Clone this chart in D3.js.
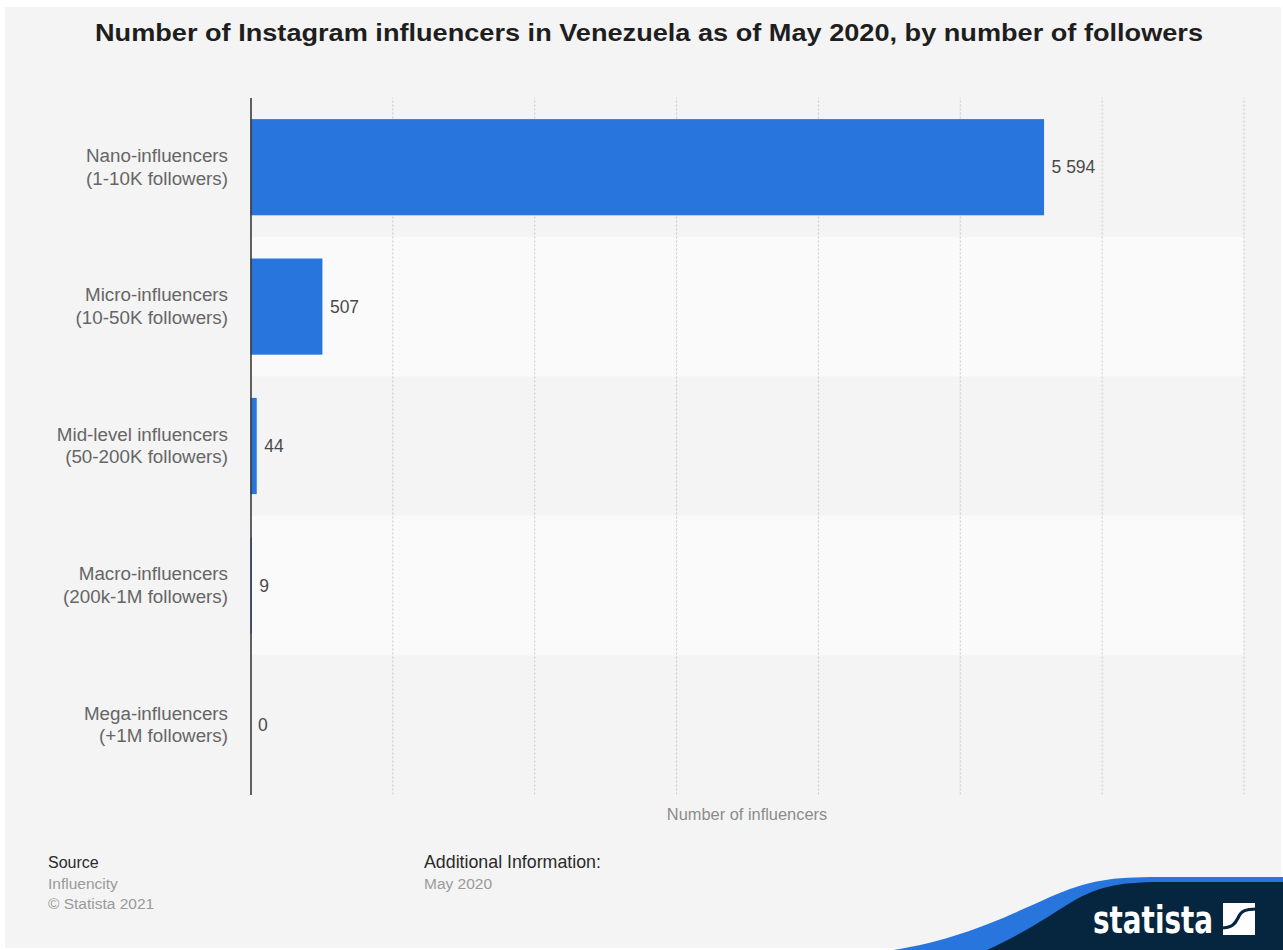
<!DOCTYPE html>
<html>
<head>
<meta charset="utf-8">
<script src="https://cdn.jsdelivr.net/npm/d3@7"></script>
<style>
  html, body { margin: 0; padding: 0; background: #ffffff; }
  svg { display: block; font-family: "Liberation Sans", Arial, Helvetica, sans-serif; }
</style>
</head>
<body>
<svg id="chart" width="1283" height="950"></svg>
<script>
// Influencer tiers (two-line labels) and counts
const categories = [
  "Nano-influencers",
  "Micro-influencers",
  "Mid-level influencers",
  "Macro-influencers",
  "Mega-influencers"
];
const followerRanges = [
  "(1-10K followers)",
  "(10-50K followers)",
  "(50-200K followers)",
  "(200k-1M followers)",
  "(+1M followers)"
];
const influencers = [5594, 507, 44, 9, 0];
const xTicks = [0, 1000, 2000, 3000, 4000, 5000, 6000, 7000];

const titleText = "Number of Instagram influencers in Venezuela as of May 2020, by number of followers";
const axisTitle = "Number of influencers";

const W = 1283, H = 950;
const plot = { left: 250.5, right: 1243.5, top: 97.5, bottom: 794.5 };

const svg = d3.select("#chart");

// page panel
svg.append("rect")
  .attr("x", 5).attr("y", 7)
  .attr("width", W - 7).attr("height", H - 9)
  .attr("fill", "#f4f4f4");

// title
svg.append("text")
  .attr("x", 649).attr("y", 41)
  .attr("text-anchor", "middle")
  .attr("font-size", 24)
  .attr("font-weight", "bold")
  .attr("fill", "#1e1e1e")
  .attr("textLength", 1108)
  .attr("lengthAdjust", "spacingAndGlyphs")
  .text(titleText);

const x = d3.scaleLinear()
  .domain([0, 7000])
  .range([plot.left, plot.right]);

const y = d3.scaleBand()
  .domain(categories)
  .range([plot.top, plot.bottom])
  .paddingInner(0.31)
  .paddingOuter(0.155);

const step = y.step();

// alternating row bands
svg.append("g")
  .selectAll("rect")
  .data(categories.filter((d, i) => i % 2 === 1))
  .join("rect")
  .attr("x", plot.left)
  .attr("y", d => y(d) - step * y.paddingInner() / 2)
  .attr("width", x(7000) - plot.left)
  .attr("height", step)
  .attr("fill", "#fafafa");

// vertical grid lines
const grid = svg.append("g")
  .attr("transform", `translate(0,${plot.bottom})`)
  .call(d3.axisBottom(x)
    .tickValues(xTicks.slice(1))
    .tickSize(-(plot.bottom - plot.top))
    .tickFormat(""));
grid.select(".domain").remove();
grid.selectAll(".tick line")
  .attr("stroke", "#c9c9c9")
  .attr("stroke-width", 1)
  .attr("stroke-dasharray", "2,2");

// bars
svg.append("g")
  .selectAll("rect")
  .data(influencers)
  .join("rect")
  .attr("x", x(0))
  .attr("y", (d, i) => y(categories[i]))
  .attr("width", d => x(d) - x(0))
  .attr("height", y.bandwidth())
  .attr("fill", "#2876dd");

// value labels
const fmt = d3.formatLocale({ decimal: ".", thousands: " ", grouping: [3], currency: ["", ""] }).format(",");
svg.append("g")
  .selectAll("text")
  .data(influencers)
  .join("text")
  .attr("x", d => x(d) + 7.5)
  .attr("y", (d, i) => y(categories[i]) + y.bandwidth() / 2)
  .attr("dy", "0.35em")
  .attr("font-size", 17.5)
  .attr("fill", "#4a4a4a")
  .text(d => fmt(d));

// category axis
const yAxis = svg.append("g")
  .attr("transform", `translate(${plot.left},0)`)
  .call(d3.axisLeft(y).tickSize(0).tickPadding(22).tickFormat(""));
yAxis.select(".domain")
  .attr("stroke", "#3a3a3a")
  .attr("stroke-width", 1.6);

const labels = svg.append("g")
  .selectAll("text")
  .data(categories)
  .join("text")
  .attr("x", 228)
  .attr("y", d => y(d) + y.bandwidth() / 2)
  .attr("text-anchor", "end")
  .attr("font-size", 18.8)
  .attr("fill", "#666666");
labels.append("tspan")
  .attr("x", 228)
  .attr("dy", "-0.28em")
  .text(d => d);
labels.append("tspan")
  .attr("x", 228)
  .attr("dy", "1.21em")
  .text((d, i) => followerRanges[i]);

// x axis title
svg.append("text")
  .attr("x", (plot.left + plot.right) / 2)
  .attr("y", 820)
  .attr("text-anchor", "middle")
  .attr("font-size", 16.4)
  .attr("fill", "#8c8c8c")
  .text(axisTitle);

// footer
const footer = svg.append("g").attr("font-size", 16);
footer.append("text").attr("x", 48).attr("y", 868).attr("fill", "#2a2a2a").text("Source");
footer.append("text").attr("x", 48).attr("y", 889).attr("fill", "#9a9a9a").attr("font-size", 15.5).text("Influencity");
footer.append("text").attr("x", 48).attr("y", 909).attr("fill", "#9a9a9a").attr("font-size", 15.5).text("\u00A9 Statista 2021");
footer.append("text").attr("x", 424).attr("y", 868).attr("fill", "#2a2a2a").attr("font-size", 17.8).text("Additional Information:");
footer.append("text").attr("x", 424).attr("y", 889).attr("fill", "#9a9a9a").attr("font-size", 15.5).text("May 2020");

// brand corner
const brand = svg.append("g");
brand.append("path")
  .attr("d", "M893,950 C960,940 1010,915 1050,897 C1090,880 1110,877 1160,877 L1283,877 L1283,950 Z")
  .attr("fill", "#2876dd");
brand.append("path")
  .attr("d", "M987,950 C1030,930 1050,915 1070,903 C1095,888 1115,882 1160,882 L1283,882 L1283,950 Z")
  .attr("fill", "#06263f");
brand.append("text")
  .attr("x", 1093).attr("y", 933)
  .attr("font-family", "'Liberation Sans Narrow', 'DejaVu Sans Condensed', 'Liberation Sans', sans-serif")
  .attr("font-weight", "bold")
  .attr("font-size", 37)
  .attr("textLength", 120)
  .attr("lengthAdjust", "spacingAndGlyphs")
  .attr("fill", "#ffffff")
  .text("statista");
brand.append("rect")
  .attr("x", 1223).attr("y", 903)
  .attr("width", 32).attr("height", 32)
  .attr("fill", "#ffffff");
brand.append("path")
  .attr("d", "M1221,928 C1232,928 1235,924 1238,918 C1241,911 1245,909 1257,909")
  .attr("fill", "none")
  .attr("stroke", "#06263f")
  .attr("stroke-width", 3.2);
</script>
</body>
</html>
